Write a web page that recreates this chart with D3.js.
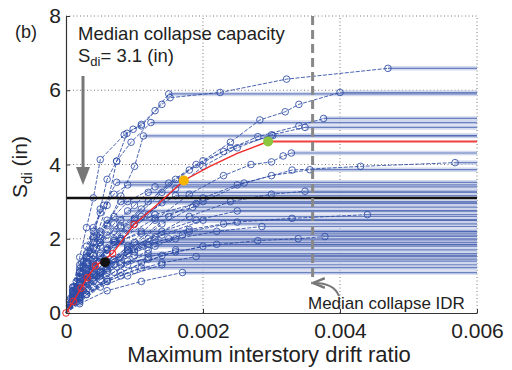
<!DOCTYPE html>
<html>
<head>
<meta charset="utf-8">
<script src="https://cdn.jsdelivr.net/npm/d3@7"></script>
<style>
  body { margin: 0; background: #fff; }
  svg text { font-family: "Liberation Sans", Arial, sans-serif; fill: #222; }
</style>
</head>
<body>
<svg id="chart" width="512" height="370"></svg>
<script>
// IDA curves: [drift, Sdi] pairs, last point = collapse, then flat to the right
var curves = [
  [[0,0],[.00012,.6],[.00025,1.25],[.0004,2.05],[.0005,2.8],[.0006,3.6],[.00074,4.09],[.00089,4.84],[.00098,4.95],[.0011,5.04],[.0014,5.62],[.00152,5.8],[.00225,5.94],[.00322,6.3],[.0047,6.59]],
  [[0,0],[.0001,.7],[.0002,1.5],[.0003,2.3],[.0004,3.1],[.0005,4.13],[.00085,4.8],[.0011,5.08],[.0013,5.45],[.0015,5.9]],
  [[0,0],[.00015,.65],[.0003,1.35],[.00045,2.1],[.0006,2.9],[.00074,4.09],[.00095,4.6],[.00124,5.13]],
  [[0,0],[.0002,.75],[.0004,1.55],[.0006,2.35],[.0008,3.15],[.001,3.95],[.00113,4.77]],
  [[0,0],[.00015,.5],[.0003,1.0],[.0005,1.6],[.0008,2.3],[.0012,3.0],[.0016,3.6],[.002,4.1],[.0024,4.6],[.00283,5.2],[.0032,5.42],[.0034,5.62],[.004,5.94]],
  [[0,0],[.0002,.65],[.0004,1.25],[.0007,1.95],[.001,2.55],[.0014,3.25],[.0018,3.85],[.0023,4.35],[.0028,4.75],[.0034,5.04],[.00376,5.24]],
  [[0,0],[.0002,.55],[.0005,1.25],[.0008,1.95],[.0012,2.65],[.0016,3.35],[.002,3.95],[.0025,4.45],[.003,4.8],[.00349,5.0]],
  [[0,0],[.00018,.6],[.0004,1.3],[.0007,2.0],[.0011,2.8],[.0015,3.5],[.0019,4.0],[.0024,4.45],[.00302,4.78]],
  [[0,0],[.0002,.5],[.0005,1.1],[.0009,1.8],[.0013,2.5],[.0018,3.2],[.0023,3.7],[.0027,4.0],[.003,4.07],[.00317,4.23],[.00329,4.31]],
  [[0,0],[.0002,.4],[.0005,1.0],[.0009,1.7],[.0014,2.4],[.002,3.0],[.0026,3.5],[.0033,3.85],[.0043,3.95],[.00568,4.05]],
  [[0,0],[.0002,.45],[.0005,1.05],[.001,1.9],[.0015,2.6],[.002,3.1],[.0025,3.45],[.003,3.7],[.00356,3.86]],
  [[0,0],[.0003,.6],[.0007,1.3],[.0012,2.0],[.0018,2.6],[.0024,3.0],[.003,3.2],[.00349,3.28]],
  [[0,0],[.0003,.5],[.0007,1.1],[.0012,1.7],[.0018,2.2],[.0025,2.45],[.0033,2.55],[.0044,2.65]],
  [[0,0],[.0003,.5],[.0008,1.1],[.0014,1.55],[.002,1.8],[.0028,1.95],[.00339,2.0],[.00378,2.06]],
  [[0,0],[.0002,.5],[.0006,1.2],[.001,1.7],[.0016,2.0],[.0022,2.2],[.00286,2.33]],
  [[0,0],[.0001,.6],[.00025,1.4],[.0004,2.2],[.00055,2.9],[.00074,3.52]],
  [[0,0],[.0001,.4],[.0002,.8],[.0003,1.1],[.0004,1.45],[.0005,1.8],[.0008,2.5],[.001,2.9],[.0012,3.25]],
  [[0,0],[.00015,.5],[.0004,1.2],[.0007,1.9],[.0011,2.6],[.0016,3.16]],
  [[0,0],[.0001,.35],[.0002,.65],[.0003,.9],[.0006,1.6],[.0008,2.0],[.001,2.4],[.0014,2.97]],
  [[0,0],[.0001,.5],[.0002,.85],[.0003,1.2],[.0004,1.55],[.0005,1.9],[.0007,2.4],[.0009,2.75]],
  [[0,0],[.0002,.45],[.0005,1.0],[.0009,1.6],[.0014,2.1],[.002,2.5]],
  [[0,0],[.0001,.45],[.0002,.8],[.0003,1.1],[.00045,1.4],[.0006,1.7],[.0008,1.95],[.0011,2.2]],
  [[0,0],[.00015,.4],[.0004,.95],[.0008,1.5],[.0012,1.85],[.0017,2.1]],
  [[0,0],[.0001,.35],[.0002,.6],[.0003,.85],[.00045,1.1],[.0006,1.35],[.0009,1.7],[.0013,1.97]],
  [[0,0],[.0001,.5],[.0002,.85],[.0003,1.15],[.0004,1.35],[.0005,1.55],[.0007,1.84]],
  [[0,0],[.0002,.4],[.0005,.9],[.0009,1.3],[.0012,1.5],[.0016,1.7]],
  [[0,0],[.00012,.35],[.00025,.6],[.0004,.85],[.0006,1.1],[.0008,1.3],[.0012,1.6]],
  [[0,0],[.0002,.35],[.0006,.85],[.001,1.15],[.0014,1.35],[.0019,1.52]],
  [[0,0],[.0001,.35],[.0002,.6],[.0003,.8],[.00045,1.0],[.0006,1.15],[.0009,1.4]],
  [[0,0],[.0002,.3],[.0005,.7],[.0009,1.0],[.0014,1.3]],
  [[0,0],[.00015,.3],[.0004,.7],[.0006,.85],[.0008,1.0],[.0011,1.22]],
  [[0,0],[.0002,.25],[.0006,.6],[.0011,.85],[.0017,1.09]],
  [[0,0],[.0001,.6],[.0002,1.1],[.00035,1.6],[.0005,1.9]],
  [[0,0],[.0001,.55],[.0002,1.0],[.0003,1.4],[.0004,1.75],[.0005,2.1],[.0008,3.0]],
  [[0,0],[.0001,.6],[.0002,1.2],[.0003,1.6],[.0004,2.0],[.0006,2.5]],
  [[0,0],[.0002,.35],[.0006,.9],[.0011,1.35],[.0016,1.65],[.0022,1.85]],
  [[0,0],[.0002,.5],[.0005,1.1],[.0009,1.7],[.0014,2.2],[.0019,2.5],[.0025,2.75]],
  [[0,0],[.00015,.55],[.0004,1.25],[.0008,2.0],[.0013,2.55],[.00185,2.85]],
  [[0,0],[.0001,.4],[.0003,.9],[.0006,1.3],[.001,1.55]],
  [[0,0],[.0001,.6],[.0003,1.5],[.0006,2.4],[.0009,3.0],[.0013,3.4]],
  [[0,0],[.0001,.45],[.0003,1.05],[.0006,1.75],[.0009,2.3],[.0013,2.65],[.0019,2.95]],
  [[0,0],[.00015,.45],[.0004,1.0],[.0007,1.45],[.0011,1.8],[.0015,2.0]],
  [[0,0],[.00005,.3],[.00012,.7],[.0002,1.1],[.0003,1.5],[.0004,1.9],[.0005,2.2],[.0007,2.6]],
  [[0,0],[.00006,.25],[.00015,.6],[.00025,.95],[.0004,1.35],[.0006,1.7],[.0008,1.95],[.0011,2.15]],
  [[0,0],[.00005,.35],[.0001,.7],[.0002,1.3],[.0003,1.8],[.0004,2.3],[.0005,2.7],[.0007,3.2],[.0009,3.45]],
  [[0,0],[.00008,.3],[.0002,.65],[.00035,1.0],[.0005,1.25],[.0007,1.45],[.001,1.65],[.0013,1.8]],
  [[0,0],[.00005,.2],[.00015,.5],[.0003,.85],[.0005,1.1],[.0008,1.35],[.0012,1.45]],
  [[0,0],[.0001,.45],[.0002,.9],[.0003,1.3],[.00045,1.75],[.0006,2.1],[.0008,2.35],[.001,2.5]],
  [[0,0],[.00007,.4],[.00015,.85],[.00025,1.3],[.00035,1.7],[.0005,2.0],[.0007,2.2]],
  [[0,0],[.0001,.3],[.00025,.7],[.0004,1.05],[.0006,1.4],[.0009,1.75],[.0013,2.05],[.0018,2.25],[.0023,2.4]]
];
var redCurve = [[0,0],[.000107,.31],[.00022,.67],[.00031,.95],[.00043,1.27],[.00068,1.6],[.00099,2.38],[.00135,2.95],[.00172,3.57],[.0021,3.95],[.0025,4.3],[.00295,4.62]];
var keyPoints = [{d: .00057, s: 1.37, c: "#111"}, {d: .00172, s: 3.57, c: "#f7b500"}, {d: .00295, s: 4.62, c: "#8cc63f"}];
var medianSdi = 3.1;
var medianIDR = 0.0036;
var xTicks = [0, .002, .004, .006];
var xTickLabels = ["0", "0.002", "0.004", "0.006"];
var yTicks = [0, 2, 4, 6, 8];
var xMax = 0.006;

var svg = d3.select("#chart");
var x = d3.scaleLinear().domain([0, xMax]).range([66, 477]);
var y = d3.scaleLinear().domain([0, 8]).range([313, 16]);
var line = d3.line().x(function(p){ return x(p[0]); }).y(function(p){ return y(p[1]); });

svg.append("defs").html(
  '<marker id="ah2" viewBox="0 0 10 10" refX="9" refY="5" markerWidth="6" markerHeight="6" orient="auto">' +
  '<path d="M0,1 L10,5 L0,9" fill="none" stroke="#777" stroke-width="2"/></marker>');

// grid
var grid = svg.append("g");
grid.selectAll("line.gy").data(yTicks.slice(1)).enter().append("line")
  .attr("x1", x(0)).attr("x2", x(xMax))
  .attr("y1", function(d){ return y(d); }).attr("y2", function(d){ return y(d); })
  .attr("stroke", "#666").attr("stroke-width", 0.9).attr("stroke-dasharray", "1,2.5");
grid.selectAll("line.gx").data(xTicks.slice(1)).enter().append("line")
  .attr("y1", y(0)).attr("y2", y(8))
  .attr("x1", function(d){ return x(d); }).attr("x2", function(d){ return x(d); })
  .attr("stroke", "#666").attr("stroke-width", 0.9).attr("stroke-dasharray", "1,2.5");

// flat lines after collapse
var flats = svg.append("g");
flats.selectAll("line.band").data(curves).enter().append("line")
  .attr("x1", function(c){ return x(c[c.length-1][0]); }).attr("x2", x(xMax))
  .attr("y1", function(c){ return y(c[c.length-1][1]); }).attr("y2", function(c){ return y(c[c.length-1][1]); })
  .attr("stroke", "#c9d1ea").attr("stroke-width", 4.5).attr("opacity", 0.8);
flats.selectAll("line.core").data(curves).enter().append("line")
  .attr("x1", function(c){ return x(c[c.length-1][0]); }).attr("x2", x(xMax))
  .attr("y1", function(c){ return y(c[c.length-1][1]); }).attr("y2", function(c){ return y(c[c.length-1][1]); })
  .attr("stroke", "#4862b0").attr("stroke-width", 1.2).attr("opacity", 0.75);

// IDA curves
var cg = svg.append("g");
cg.selectAll("path").data(curves).enter().append("path")
  .attr("d", line).attr("fill", "none")
  .attr("stroke", "#2a49a3").attr("stroke-width", 1).attr("stroke-dasharray", "4,1.5").attr("opacity", 0.85);
curves.forEach(function(c){
  cg.selectAll(null).data(c.slice(1)).enter().append("circle")
    .attr("cx", function(p){ return x(p[0]); }).attr("cy", function(p){ return y(p[1]); })
    .attr("r", 3.3).attr("fill", "none").attr("stroke", "#2d4ca6").attr("stroke-width", 1).attr("opacity", 0.85);
});

// median capacity line
svg.append("line").attr("x1", x(0)).attr("x2", x(xMax))
  .attr("y1", y(medianSdi)).attr("y2", y(medianSdi))
  .attr("stroke", "#111").attr("stroke-width", 2.5);

// red curve
var last = redCurve[redCurve.length-1];
svg.append("line").attr("x1", x(last[0])).attr("x2", x(xMax))
  .attr("y1", y(last[1])).attr("y2", y(last[1]))
  .attr("stroke", "#f04040").attr("stroke-width", 2.2);
svg.append("path").datum(redCurve).attr("d", line).attr("fill", "none")
  .attr("stroke", "#f02828").attr("stroke-width", 1.4);
svg.selectAll("circle.red").data(redCurve.slice(0, 7)).enter().append("circle")
  .attr("cx", function(p){ return x(p[0]); }).attr("cy", function(p){ return y(p[1]); })
  .attr("r", 3.3).attr("fill", "none").attr("stroke", "#f02828").attr("stroke-width", 1);

// median collapse IDR line
svg.append("line").attr("x1", x(medianIDR)).attr("x2", x(medianIDR))
  .attr("y1", y(8)).attr("y2", 283)
  .attr("stroke", "#888").attr("stroke-width", 3).attr("stroke-dasharray", "9,5");
svg.append("path").attr("d", "M" + (x(medianIDR) - 1.5) + ",283 L" + (x(medianIDR) + 4) + ",283")
  .attr("stroke", "#888").attr("stroke-width", 2.5);
svg.append("path").attr("d", "M339,296 Q334,283 314,283")
  .attr("fill", "none").attr("stroke", "#777").attr("stroke-width", 2).attr("marker-end", "url(#ah2)");

// key points
svg.selectAll("circle.key").data(keyPoints).enter().append("circle")
  .attr("cx", function(k){ return x(k.d); }).attr("cy", function(k){ return y(k.s); })
  .attr("r", 5).attr("fill", function(k){ return k.c; });

// axes
var xAxis = svg.append("g").attr("transform", "translate(0," + y(0) + ")")
  .call(d3.axisBottom(x).tickValues(xTicks).tickSizeInner(-4).tickSizeOuter(0).tickPadding(10)
    .tickFormat(function(d, i){ return xTickLabels[i]; }));
var yAxis = svg.append("g").attr("transform", "translate(" + x(0) + ",0)")
  .call(d3.axisLeft(y).tickValues(yTicks).tickSizeInner(-4).tickSizeOuter(0).tickPadding(5));
[xAxis, yAxis].forEach(function(a){
  a.select(".domain").attr("stroke", "#333").attr("stroke-width", 1.2);
  a.selectAll(".tick line").attr("stroke", "#333");
  a.selectAll("text").style("font-size", "21px").style("font-family", "Liberation Sans, Arial, sans-serif").attr("fill", "#222");
});

// labels
svg.append("text").attr("x", 269).attr("y", 362).attr("text-anchor", "middle")
  .style("font-size", "22px").text("Maximum interstory drift ratio");
var yl = svg.append("text").attr("transform", "translate(27,167) rotate(-90)").attr("text-anchor", "middle")
  .style("font-size", "21px");
yl.append("tspan").text("S");
yl.append("tspan").attr("dy", 5).style("font-size", "15px").text("di");
yl.append("tspan").attr("dy", -5).text(" (in)");

svg.append("text").attr("x", 15).attr("y", 38).style("font-size", "18px").text("(b)");
svg.append("text").attr("x", 78).attr("y", 40).style("font-size", "18.5px").text("Median collapse capacity");
var sd = svg.append("text").attr("x", 78).attr("y", 62).style("font-size", "18.5px");
sd.append("tspan").text("S");
sd.append("tspan").attr("dy", 4).style("font-size", "13px").text("di");
sd.append("tspan").attr("dy", -4).text("= 3.1 (in)");
svg.append("text").attr("x", 308).attr("y", 309).style("font-size", "17px").text("Median collapse IDR");

// arrow down
svg.append("line").attr("x1", 83).attr("x2", 83).attr("y1", 76).attr("y2", 170)
  .attr("stroke", "#777").attr("stroke-width", 3);
svg.append("path").attr("d", "M76,167 L90,167 L83,185 Z").attr("fill", "#777");
</script>
</body>
</html>
